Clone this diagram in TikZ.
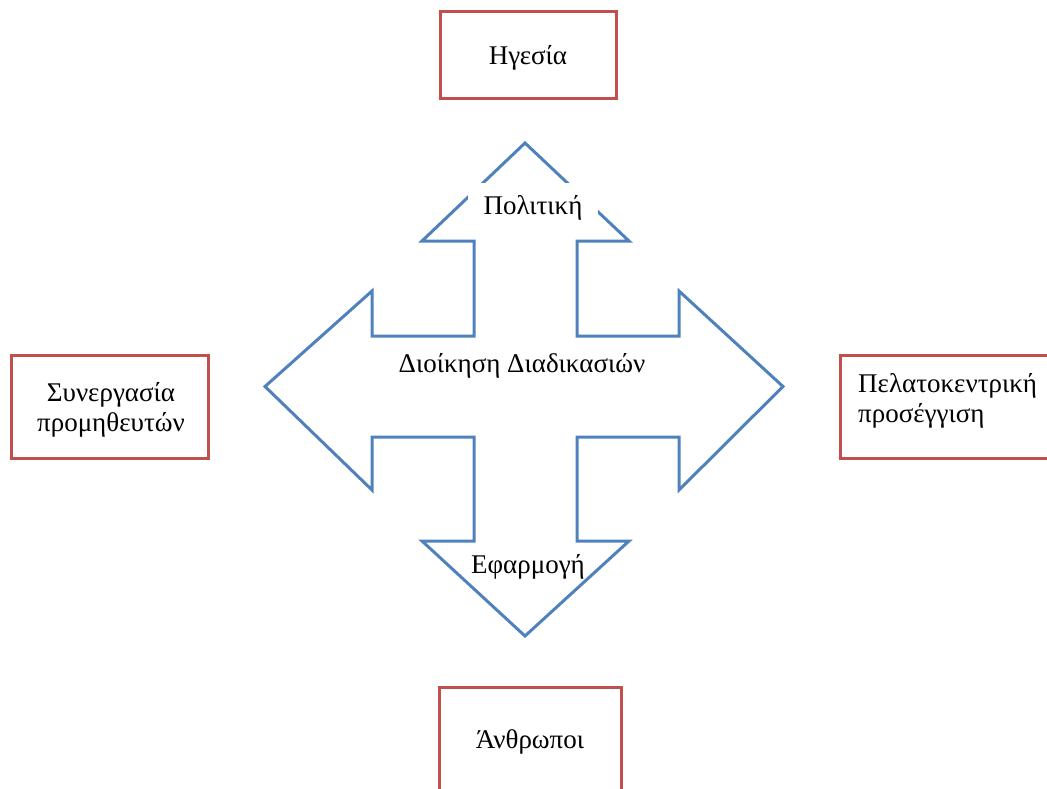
\documentclass[tikz,border=0pt]{standalone}
\usepackage{fontspec}
\setmainfont{Liberation Serif}
\definecolor{crossblue}{RGB}{79,129,189}
\definecolor{boxred}{RGB}{192,80,77}
\begin{document}
\begin{tikzpicture}[x=1pt,y=-1pt,
  factor/.style={draw=boxred,line width=3pt,fill=white},
  label/.style={font=\fontsize{27}{30}\selectfont,inner sep=0pt},
  cross/.style={draw=crossblue,line width=3pt,line join=miter}]
\useasboundingbox (0,0) rectangle (1047,789);

% outer factor boxes
\draw[factor] (440.5,11.5) rectangle (616.5,98.5);
\draw[factor] (439.5,687.5) rectangle (621.5,800);
\draw[factor] (11.5,355.5) rectangle (208.5,458.5);
\draw[factor] (840.5,355.5) rectangle (1060,458.5);

\node[label] (hgesia) at (528,58) {Ηγεσία};
\node[label] (anthr) at (530,742) {Άνθρωποι};
\node[label,align=center] (synerg) at (111,410) {Συνεργασία\\προμηθευτών};
\node[label,align=left,anchor=north west] (pelat) at (858,373) {Πελατοκεντρική\\προσέγγιση};

% four-way arrow of process management
\draw[cross] (525,143) -- (629,241) -- (577,241) -- (577,336) -- (679,336)
  -- (679,291) -- (783,386.5) -- (679,490) -- (679,437) -- (577,437)
  -- (577,541) -- (629,541) -- (525,636) -- (422,541) -- (474,541)
  -- (474,437) -- (372,437) -- (372,490) -- (265,386.5) -- (372,291)
  -- (372,336) -- (474,336) -- (474,241) -- (422,241) -- cycle;

\node[label,fill=white,minimum width=130pt,minimum height=50pt] (polit) at (533,208) {Πολιτική};
\node[label] (diik) at (522,366) {Διοίκηση Διαδικασιών};
\node[label] (efarm) at (528,567) {Εφαρμογή};
\end{tikzpicture}
\end{document}
